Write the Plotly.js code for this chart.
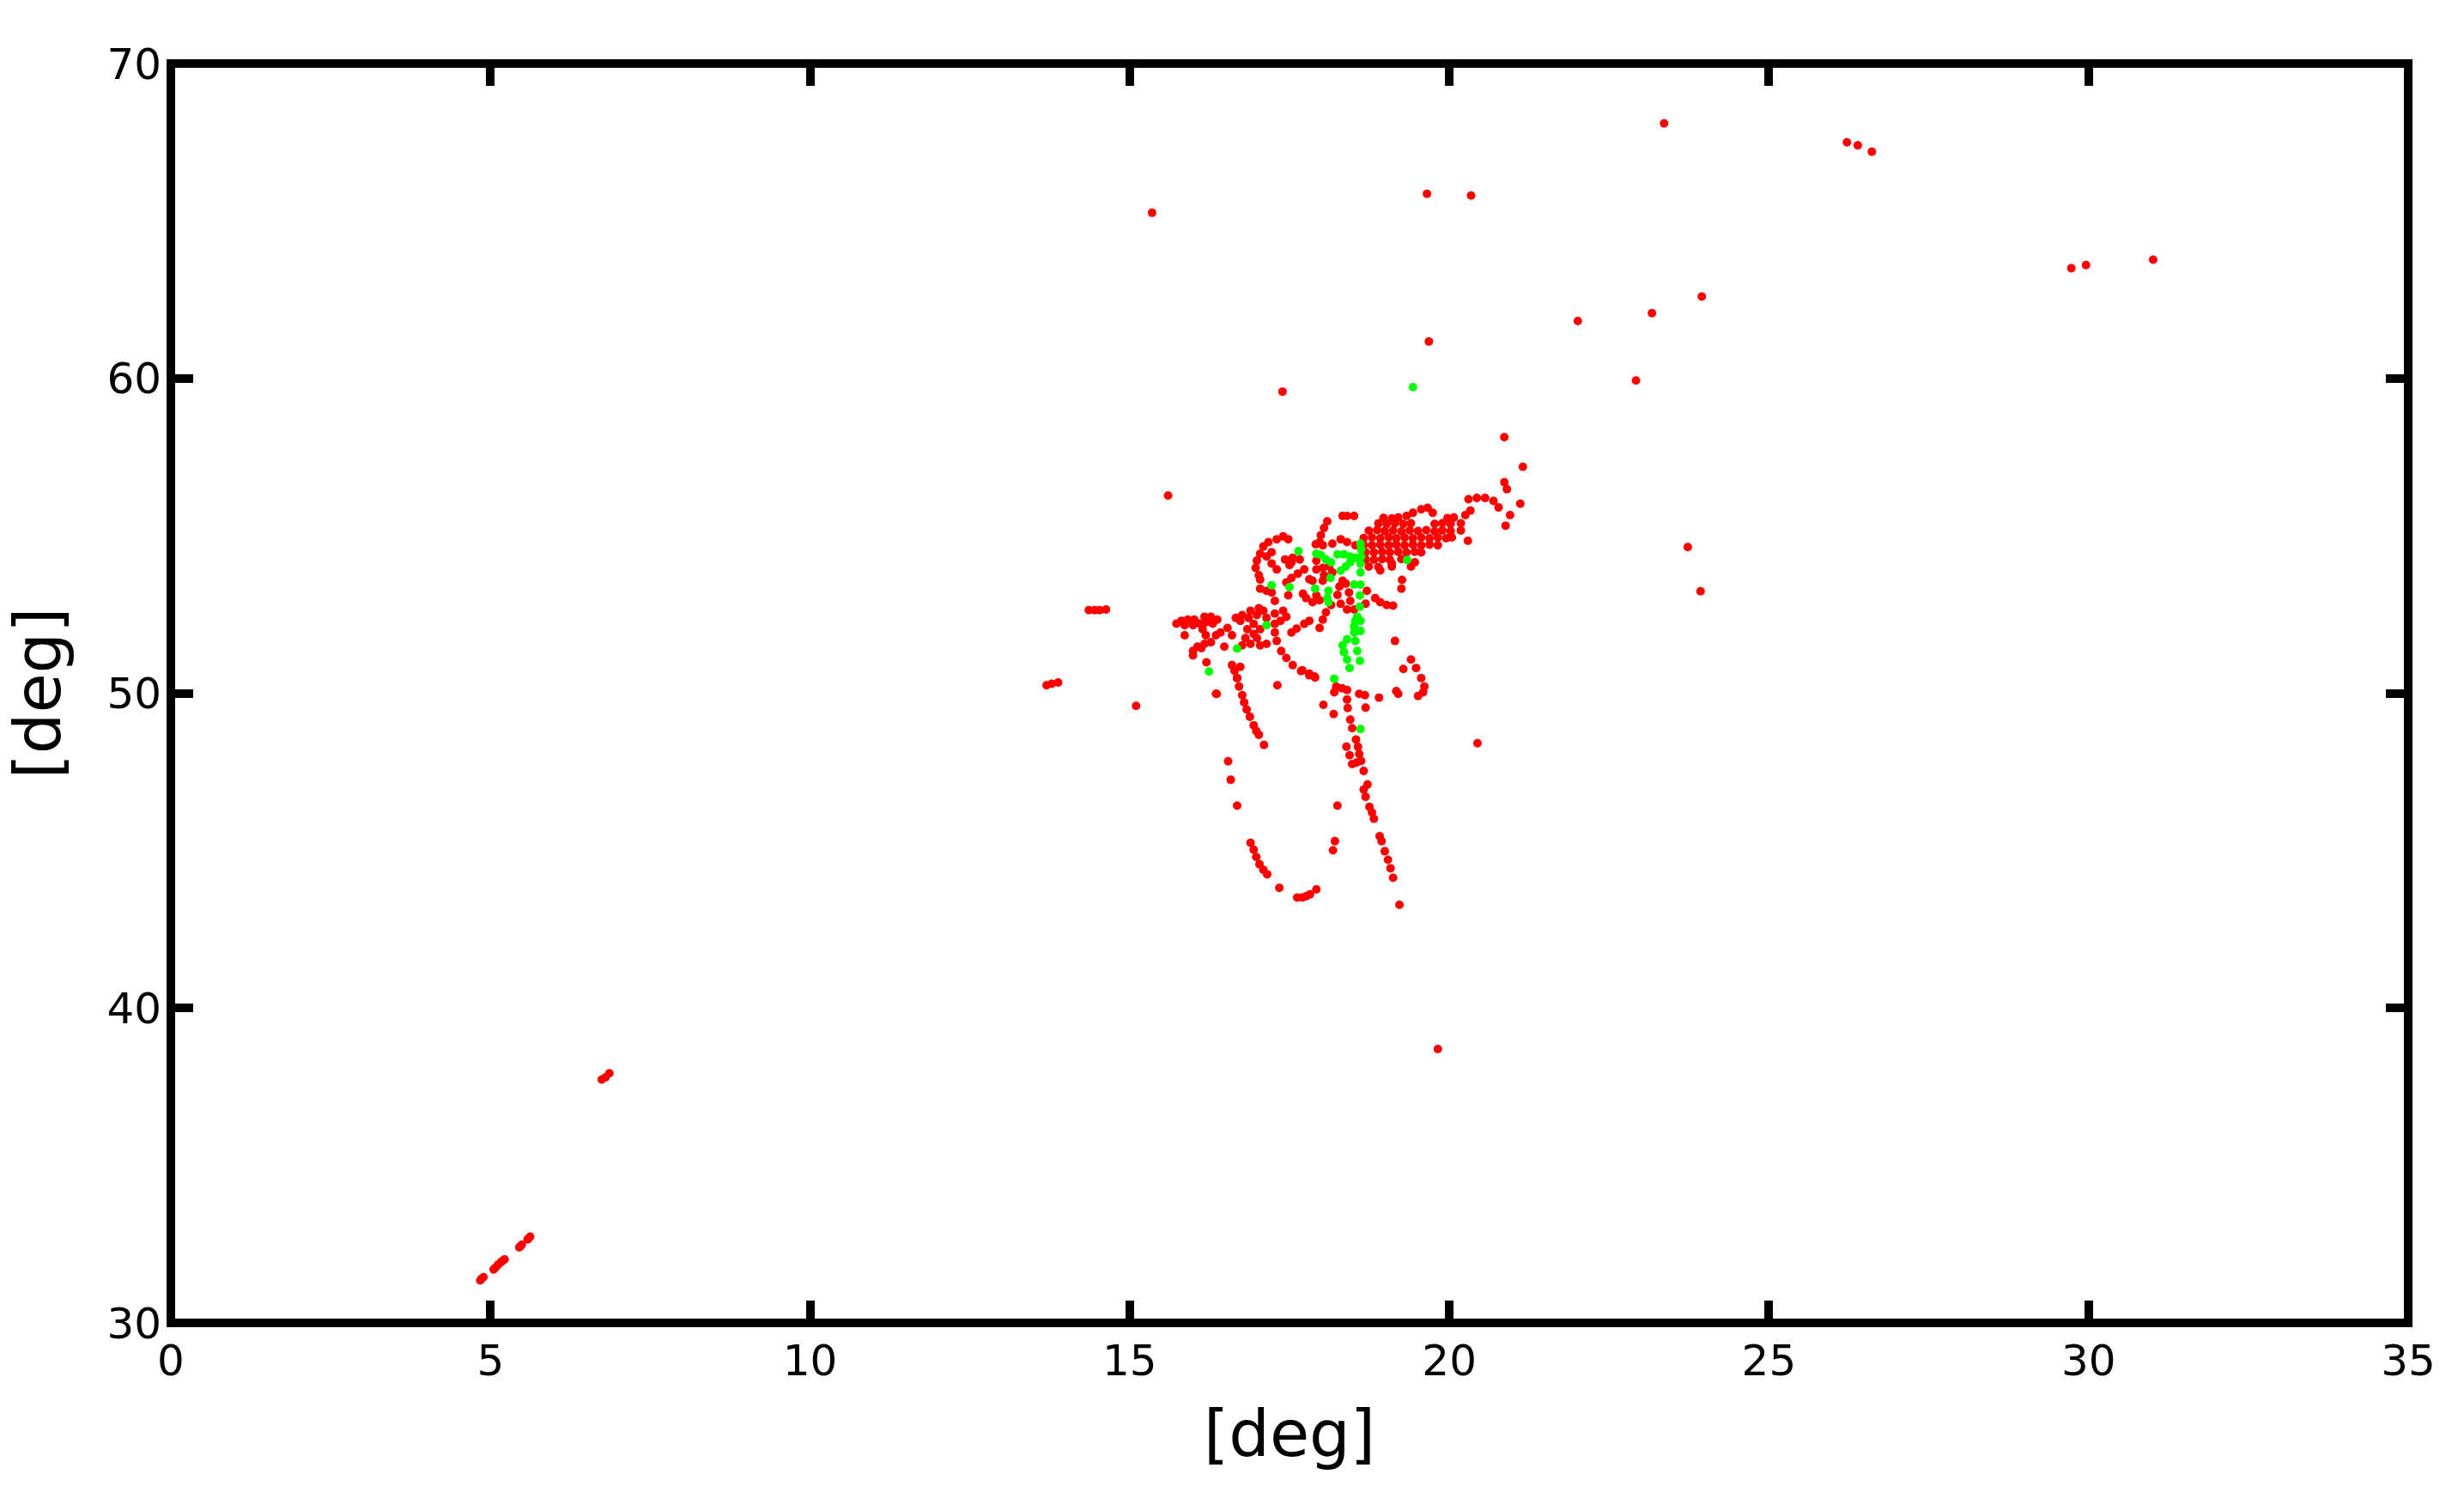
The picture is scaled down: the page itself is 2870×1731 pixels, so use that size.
<!DOCTYPE html>
<html>
<head>
<meta charset="utf-8">
<script src="https://cdn.plot.ly/plotly-3.0.1.min.js"></script>
<style>
  html, body { margin: 0; padding: 0; background: #fff; }
</style>
</head>
<body>
<div id="plot" style="width:2870px;height:1731px;"></div>
<script>
// all positions in [deg, deg]
var redScattered = [
  [15.35,65.26],[19.65,65.86],[20.34,65.81],[23.36,68.10],[26.22,67.50],[26.39,67.40],[26.61,67.20],
  [29.73,63.50],[29.96,63.60],[31.01,63.77],[23.95,62.60],[23.17,62.07],[22.01,61.82],[19.68,61.17],
  [22.92,59.93],[17.39,59.58],[20.86,58.13],[15.60,56.28],[23.73,54.64],[23.93,53.24],[15.10,49.60],
  [20.44,48.41],[19.82,38.70],[21.15,57.19],[20.86,56.70],[20.90,56.48],[21.11,56.02],[20.95,55.66],
  [20.88,55.32],[20.29,54.84]
];
var redLowerLeft = [
  [4.84,31.35],[4.86,31.40],[4.89,31.45],[5.05,31.70],[5.08,31.76],[5.12,31.85],[5.16,31.92],[5.19,31.97],
  [5.22,32.02],[5.45,32.40],[5.47,32.44],[5.49,32.48],[5.58,32.65],[5.60,32.69],[5.62,32.74],
  [6.74,37.73],[6.80,37.80],[6.86,37.93]
];
var redTails = [
  [16.64,50.71],[16.68,50.48],[16.71,50.21],[16.76,49.94],[16.79,49.71],[16.83,49.48],[16.88,49.25],
  [16.94,48.98],[16.98,48.80],[17.02,48.68],[17.10,48.36],[16.54,47.84],[16.58,47.25],[16.68,46.43],
  [16.89,45.25],[16.94,45.03],[16.98,44.80],[17.03,44.57],[17.09,44.39],[17.15,44.25],[17.34,43.82],
  [17.62,43.51],[17.70,43.51],[17.76,43.55],[17.82,43.61],[17.92,43.77],[18.25,46.43],[18.21,45.30],
  [18.18,45.01],[18.54,48.53],[18.57,48.30],[18.59,48.07],[18.62,47.85],[18.66,47.53],[18.39,48.30],
  [18.44,48.03],[18.48,47.75],[18.55,47.80],[18.72,47.10],[18.66,46.94],[18.69,46.71],[18.75,46.39],
  [18.79,46.21],[18.82,46.01],[18.91,45.46],[18.94,45.30],[18.99,44.98],[19.04,44.71],[19.08,44.44],
  [19.12,44.14],[19.22,43.28],[18.03,49.63],[18.19,49.34],[18.40,49.80],[18.41,49.53],[18.45,49.16],
  [18.48,48.89],[18.69,49.54],[18.20,50.03],[18.23,50.21],[18.32,50.16],[18.40,50.10],[18.59,49.98],
  [18.68,49.94],[18.90,49.86],[19.17,50.07],[19.20,49.98],[19.40,51.07],[19.48,50.80],[19.56,50.48],
  [19.61,50.21],[19.59,50.03],[19.51,49.91],[19.28,50.77],[19.15,51.66],[16.35,49.98],[17.31,50.25],
  [16.36,49.98],[17.70,50.73],[17.81,50.62],[17.89,50.53]
];
var redLoops = [
  [14.36,52.64],[14.45,52.64],[14.53,52.64],[14.63,52.66],[13.70,50.25],[13.78,50.30],[13.88,50.34],
  [20.30,56.16],[20.43,56.20],[20.56,56.20],[20.69,56.11],[20.77,55.90],[20.33,55.80],[20.25,55.66],
  [19.66,55.89],[19.56,55.84],[19.43,55.73],[19.33,55.63],[19.74,55.73],
  [18.09,55.46],[18.04,55.25],[17.99,55.02],[17.97,54.80],[18.33,55.63],[18.40,55.63],[18.51,55.63],
  [17.91,54.73],[18.02,54.70],[18.17,54.75],[18.30,54.89],[18.40,54.80],[18.53,54.70],
  [17.40,54.98],[17.30,54.89],[17.17,54.80],[17.09,54.66],[17.04,54.43],[16.99,54.21],[16.97,53.98],
  [17.02,53.75],[17.04,53.61],[17.48,54.89],[17.22,54.48],[17.14,54.34],[17.22,54.12],[17.30,53.93],
  [17.43,54.25],[17.53,54.16],[17.66,54.25],[17.55,54.30],[17.50,54.07],[17.73,53.93],[17.63,53.80],
  [17.53,53.66],[17.45,53.52],[17.81,53.62],[17.86,53.57],[17.92,54.21],[17.92,53.93],[18.02,53.98],
  [18.12,54.02],[18.17,53.84],[18.04,53.75],[18.02,53.57],[18.33,53.57],[18.28,53.39],[18.25,53.12],
  [18.30,52.84],[18.40,52.66],[18.51,52.66],[18.43,53.20],[18.45,52.93],[18.38,53.48],[18.71,53.25],
  [18.84,53.02],[18.92,52.89],[19.02,52.80],[19.12,52.78],[18.69,52.84],[19.26,53.60],[19.25,53.32],
  [19.40,54.02],[19.46,54.16],[19.10,54.12],[18.92,53.90],[17.04,53.32],[17.14,53.25],[17.22,53.20],
  [17.48,53.11],[17.27,52.93],[17.71,53.16],[17.76,53.02],[17.86,52.89],[17.92,53.11],[17.97,52.95],
  [18.15,52.80],[18.07,52.57],[18.02,52.34],[17.97,52.07],[17.81,52.30],[17.73,52.20],[17.61,52.05],
  [17.53,51.93]
];
var redCore = [
  [18.97,55.57],[19.10,55.55],[19.20,55.58],[19.97,55.56],[20.07,55.58],
  [18.89,55.39],[19.02,55.37],[19.15,55.40],[19.28,55.38],[19.40,55.40],[19.77,55.38],[19.89,55.40],[20.02,55.37],[20.18,55.40],
  [18.74,55.16],[18.87,55.18],[18.99,55.15],[19.12,55.17],[19.25,55.14],[19.38,55.17],[19.51,55.15],[19.64,55.18],[19.77,55.14],[19.89,55.17],[20.02,55.15],[20.18,55.17],
  [18.66,54.93],[18.79,54.95],[18.92,54.92],[19.05,54.95],[19.17,54.92],[19.30,54.94],[19.43,54.92],[19.56,54.95],[19.69,54.92],[19.82,54.94],[19.95,54.92],[20.04,54.95],
  [18.66,54.71],[18.79,54.70],[18.92,54.72],[19.05,54.70],[19.17,54.72],[19.30,54.70],[19.43,54.72],[19.56,54.70],[19.69,54.72],[19.82,54.70],
  [18.69,54.48],[18.82,54.47],[18.95,54.49],[19.07,54.47],[19.20,54.49],[19.33,54.47],[19.46,54.49],[19.56,54.47],
  [18.69,54.25],[18.82,54.24],[18.95,54.26],[19.07,54.24],[19.25,54.26],
  [18.74,54.02],[18.89,54.01],[19.10,54.02]
];
var redLeftCluster = [
  [15.73,52.21],[15.81,52.30],[15.91,52.34],[16.01,52.34],[15.86,52.16],[15.99,52.16],[16.09,52.21],
  [16.17,52.43],[16.27,52.43],[16.37,52.34],[16.19,52.25],[16.30,52.21],[16.14,52.03],[16.19,51.84],
  [15.86,51.84],[16.53,52.07],[16.42,51.93],[16.35,51.84],[16.60,51.84],[16.27,51.62],[16.17,51.57],
  [16.06,51.48],[15.99,51.34],[15.99,51.20],[16.12,51.43],[16.48,51.48],[16.20,50.98],
  [16.66,52.39],[16.76,52.48],[16.89,52.62],[17.02,52.70],[17.09,52.62],[16.99,52.48],[16.86,52.39],
  [16.73,52.30],[17.14,52.39],[17.27,52.53],[17.40,52.62],[17.45,52.43],[17.36,52.30],[17.27,52.20],
  [16.94,52.20],[16.84,52.03],[17.04,52.03],[16.81,51.75],[16.94,51.88],[16.76,51.52],[16.89,51.57],
  [17.04,51.52],[17.14,51.57],[16.99,51.75],[17.27,51.93],[17.30,51.66],[17.37,51.34],[17.45,51.12],
  [17.55,50.89],[17.68,50.70],[17.81,50.57],[17.90,50.50],[16.60,50.89],[16.73,50.84],[16.68,50.48]
];
var greenPoints = [
  [17.64,54.51],[17.92,54.43],[17.99,54.39],[18.07,54.25],[18.15,54.16],[18.25,54.41],[18.35,54.41],
  [18.45,54.34],[18.53,54.30],[18.45,54.16],[18.38,54.02],[18.30,53.89],[18.61,54.75],[18.62,54.57],
  [18.62,54.34],[18.61,54.12],[18.61,53.84],[18.14,53.66],[17.22,53.43],[17.50,53.37],[17.90,53.32],
  [18.11,53.25],[18.09,53.02],[18.11,52.89],[18.51,53.45],[18.61,53.45],[18.60,53.10],[18.60,52.75],
  [18.56,52.43],[18.53,52.30],[18.61,52.30],[18.51,52.12],[18.61,51.98],[18.51,51.93],[18.40,51.71],
  [18.33,51.52],[18.53,51.66],[18.35,51.30],[18.56,51.34],[18.40,51.07],[18.60,51.03],[18.44,50.80],
  [19.34,54.23],[17.14,52.16],[16.68,51.42],[16.24,50.69],[18.20,50.46],[18.61,48.86],[19.43,59.72]
];

var xTicks = [0, 5, 10, 15, 20, 25, 30, 35];
var yTicks = [30, 40, 50, 60, 70];

var redPoints = redScattered.concat(redLowerLeft, redTails, redLoops, redCore, redLeftCluster);

function scatterTrace(points, color) {
    return {
        x: points.map(function (p) { return p[0]; }),
        y: points.map(function (p) { return p[1]; }),
        mode: 'markers',
        type: 'scatter',
        cliponaxis: false,
        marker: { color: color, size: 10, line: { width: 0 } },
        hoverinfo: 'x+y'
    };
}

var tickFont = { family: 'DejaVu Sans', size: 50, color: '#000' };
var titleFont = { family: 'DejaVu Sans', size: 75, color: '#000' };

var layout = {
    width: 2870,
    height: 1731,
    showlegend: false,
    paper_bgcolor: '#fff',
    plot_bgcolor: '#fff',
    margin: { l: 199, r: 65, t: 74, b: 190, pad: 0 },
    xaxis: {
        range: [0, 35],
        tickmode: 'array',
        tickvals: xTicks,
        ticktext: xTicks.map(String),
        ticks: 'inside',
        ticklen: 26,
        tickwidth: 10,
        tickcolor: '#000',
        mirror: 'ticks',
        showline: true,
        linewidth: 1,
        linecolor: 'rgba(0,0,0,0)',
        showgrid: false,
        zeroline: false,
        tickfont: tickFont,
        title: { text: '[deg]', font: titleFont, standoff: 30 }
    },
    yaxis: {
        range: [30, 70],
        tickmode: 'array',
        tickvals: yTicks,
        ticktext: yTicks.map(String),
        ticks: 'inside',
        ticklen: 26,
        tickwidth: 10,
        tickcolor: '#000',
        mirror: 'ticks',
        showline: true,
        linewidth: 1,
        linecolor: 'rgba(0,0,0,0)',
        showgrid: false,
        zeroline: false,
        tickfont: tickFont,
        title: { text: '[deg]', font: titleFont, standoff: 30 }
    },
    // frame sits centred on the plot edge, plotly's own axis line would sit outside it
    shapes: [{
        type: 'rect', xref: 'paper', yref: 'paper', x0: 0, x1: 1, y0: 0, y1: 1,
        line: { color: '#000', width: 10 }, layer: 'above'
    }]
};

Plotly.newPlot('plot', [scatterTrace(redPoints, '#ff0000'), scatterTrace(greenPoints, '#00ff00')], layout, { displayModeBar: false, responsive: false });
</script>
</body>
</html>
